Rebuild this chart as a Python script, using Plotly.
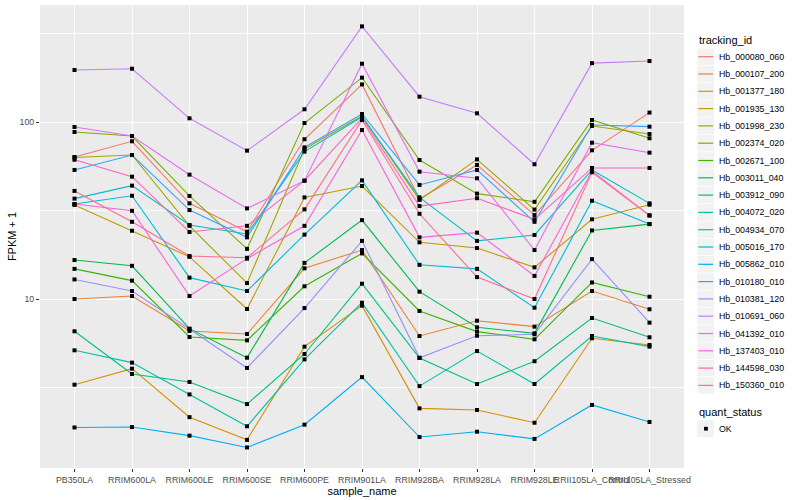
import plotly.graph_objects as go

samples = ["PB350LA", "RRIM600LA", "RRIM600LE", "RRIM600SE", "RRIM600PE", "RRIM901LA",
           "RRIM928BA", "RRIM928LA", "RRIM928LE", "RRII105LA_Control", "RRII105LA_Stressed"]

tracking_ids = ["Hb_000080_060", "Hb_000107_200", "Hb_001377_180", "Hb_001935_130", "Hb_001998_230",
                "Hb_002374_020", "Hb_002671_100", "Hb_003011_040", "Hb_003912_090", "Hb_004072_020",
                "Hb_004934_070", "Hb_005016_170", "Hb_005862_010", "Hb_010180_010", "Hb_010381_120",
                "Hb_010691_060", "Hb_041392_010", "Hb_137403_010", "Hb_144598_030", "Hb_150360_010"]

colors = ["#F8766D", "#EA8331", "#D89000", "#C09B00", "#A3A500", "#7CAE00", "#39B600", "#00BB4E",
          "#00BF7D", "#00C1A3", "#00BFC4", "#00BAE0", "#00B0F6", "#35A2FF", "#9590FF", "#C77CFF",
          "#E76BF3", "#FA62DB", "#FF62BC", "#FF6C91"]

# FPKM + 1 per sample
Hb_000080_060 = [63.4, 77.8, 34.7, 24.0, 79.9, 163, 36.7, 57.2, 29.8, 69.2, 113]
Hb_000107_200 = [10.0, 10.4, 6.6, 6.34, 14.9, 18.9, 6.18, 7.54, 6.98, 11.1, 8.75]
Hb_001377_180 = [3.28, 4.04, 2.15, 1.60, 5.38, 9.17, 2.41, 2.36, 2.00, 6.00, 5.50]
Hb_001935_130 = [34.0, 24.3, 17.3, 8.78, 37.5, 43.5, 20.9, 19.4, 15.1, 28.2, 34.1]
Hb_001998_230 = [63.0, 65.1, 25.9, 12.3, 70.4, 108, 36.3, 61.5, 32.0, 94.9, 85.5]
Hb_002374_020 = [87.8, 83.3, 38.2, 19.2, 98.7, 178, 61.0, 39.4, 35.4, 102.6, 80.9]
Hb_002671_100 = [14.8, 12.7, 6.10, 5.84, 11.8, 18.1, 8.56, 6.54, 5.92, 12.4, 10.3]
Hb_003011_040 = [16.6, 15.4, 6.8, 4.66, 16.0, 27.9, 11.0, 6.92, 6.40, 24.4, 26.5]
Hb_003912_090 = [6.57, 3.77, 3.40, 2.55, 4.89, 12.2, 4.64, 3.31, 4.45, 7.81, 6.08]
Hb_004072_020 = [5.13, 4.37, 2.89, 1.91, 4.56, 9.53, 3.22, 5.08, 3.31, 6.18, 5.38]
Hb_004934_070 = [36.9, 43.7, 26.2, 23.3, 68.0, 106.7, 37.5, 21.3, 23.0, 53.6, 34.7]
Hb_005016_170 = [34.4, 38.3, 13.2, 11.1, 23.1, 46.8, 15.6, 14.8, 8.93, 35.9, 26.5]
Hb_005862_010 = [1.88, 1.89, 1.69, 1.45, 1.95, 3.62, 1.66, 1.78, 1.62, 2.52, 2.02]
Hb_010180_010 = [53.6, 65.1, 31.8, 22.3, 71.9, 111, 44.1, 53.6, 27.3, 96.2, 94.1]
Hb_010381_120 = [12.9, 11.1, 6.77, 4.08, 8.89, 21.3, 4.66, 6.20, 6.32, 16.8, 7.35]
Hb_010691_060 = [196.7, 200, 104.9, 68.9, 118, 347, 139, 112, 57.7, 215, 221]
Hb_041392_010 = [93.7, 83.3, 50.4, 32.5, 46.6, 213.5, 52.4, 48.1, 18.9, 76.4, 67.1]
Hb_137403_010 = [34.4, 31.5, 10.4, 16.9, 25.9, 90.1, 22.3, 23.7, 13.5, 52.8, 29.7]
Hb_144598_030 = [61.2, 49.1, 23.9, 25.9, 46.6, 105.3, 33.5, 37.1, 28.2, 55.0, 55.0]
Hb_150360_010 = [40.8, 27.3, 17.5, 17.1, 32.1, 102.6, 30.3, 13.3, 10.0, 52.0, 29.6]

series = [Hb_000080_060, Hb_000107_200, Hb_001377_180, Hb_001935_130, Hb_001998_230,
          Hb_002374_020, Hb_002671_100, Hb_003011_040, Hb_003912_090, Hb_004072_020,
          Hb_004934_070, Hb_005016_170, Hb_005862_010, Hb_010180_010, Hb_010381_120,
          Hb_010691_060, Hb_041392_010, Hb_137403_010, Hb_144598_030, Hb_150360_010]

quant_status = "OK"

FONT = "Liberation Sans, Arial, sans-serif"
W, H = 800, 500
ML, MR, MT, MB = 40, 116, 5, 32
PW, PH = W - ML - MR, H - MT - MB


def px(xp):
    return (xp - ML) / PW


def py(yp):
    return (H - MB - yp) / PH


fig = go.Figure()
for name, col, vals in zip(tracking_ids, colors, series):
    fig.add_trace(go.Scatter(x=samples, y=vals, mode="lines", name=name,
                             line=dict(color=col, width=1.1), showlegend=False,
                             hoverinfo="x+y+name"))

all_x = [s for vals in series for s in samples]
all_y = [v for vals in series for v in vals]
fig.add_trace(go.Scatter(x=all_x, y=all_y, mode="markers", name=quant_status,
                         marker=dict(symbol="square", size=4, color="black"),
                         showlegend=False))

# manual ggplot-style legend
shapes = []
annotations = []
KEY_X0, KEY_W, TXT_X = 697.3, 17.3, 716.5
ROW0, ROWH = 56.7, 17.3
annotations.append(dict(x=px(696.5), y=py(40.5), xref="paper", yref="paper", text="tracking_id",
                        showarrow=False, xanchor="left", yanchor="middle",
                        font=dict(size=11, color="black", family=FONT)))
for i, (name, col) in enumerate(zip(tracking_ids, colors)):
    yc = ROW0 + ROWH * i
    shapes.append(dict(type="rect", xref="paper", yref="paper",
                       x0=px(KEY_X0), x1=px(KEY_X0 + KEY_W - 0.6),
                       y0=py(yc - ROWH / 2 + 0.4), y1=py(yc + ROWH / 2 - 0.4),
                       fillcolor="#F2F2F2", line=dict(width=0)))
    shapes.append(dict(type="line", xref="paper", yref="paper",
                       x0=px(KEY_X0 + 1), x1=px(KEY_X0 + KEY_W - 1.5), y0=py(yc), y1=py(yc),
                       line=dict(color=col, width=1.2)))
    annotations.append(dict(x=px(TXT_X), y=py(yc), xref="paper", yref="paper", text=name,
                            showarrow=False, xanchor="left", yanchor="middle",
                            font=dict(size=8.8, color="black", family=FONT)))

annotations.append(dict(x=px(696.5), y=py(412), xref="paper", yref="paper", text="quant_status",
                        showarrow=False, xanchor="left", yanchor="middle",
                        font=dict(size=11, color="black", family=FONT)))
yc = 428.7
shapes.append(dict(type="rect", xref="paper", yref="paper",
                   x0=px(KEY_X0), x1=px(KEY_X0 + KEY_W - 0.6),
                   y0=py(yc - ROWH / 2 + 0.4), y1=py(yc + ROWH / 2 - 0.4),
                   fillcolor="#F2F2F2", line=dict(width=0)))
shapes.append(dict(type="rect", xref="paper", yref="paper",
                   x0=px(KEY_X0 + KEY_W / 2 - 1.9), x1=px(KEY_X0 + KEY_W / 2 + 1.9),
                   y0=py(yc - 1.9), y1=py(yc + 1.9),
                   fillcolor="black", line=dict(width=0)))
annotations.append(dict(x=px(TXT_X), y=py(yc), xref="paper", yref="paper", text=quant_status,
                        showarrow=False, xanchor="left", yanchor="middle",
                        font=dict(size=8.8, color="black", family=FONT)))

fig.update_layout(
    width=W, height=H,
    margin=dict(l=ML, r=MR, t=MT, b=MB, autoexpand=False),
    paper_bgcolor="white", plot_bgcolor="#EBEBEB",
    font=dict(family=FONT, color="black"),
    showlegend=False,
    shapes=shapes, annotations=annotations,
)

fig.update_xaxes(type="category", categoryorder="array", categoryarray=samples,
                 range=[-0.6, len(samples) - 0.4], showgrid=True, gridcolor="white",
                 gridwidth=1.1, zeroline=False, showline=False, ticks="outside",
                 ticklen=3, tickcolor="#333333", tickangle=0,
                 tickfont=dict(size=8.8, color="#4D4D4D"),
                 title=dict(text="sample_name", font=dict(size=11), standoff=0))

fig.update_yaxes(type="log", range=[0.0452, 2.661], tickvals=[10, 100], ticktext=["10", "100"],
                 showgrid=True, gridcolor="white", gridwidth=1.1, zeroline=False, showline=False,
                 ticks="outside", ticklen=3, tickcolor="#333333",
                 tickfont=dict(size=8.8, color="#4D4D4D"),
                 minor=dict(tickvals=[3.1623, 31.623, 316.23], showgrid=True, gridcolor="white",
                            gridwidth=0.55, ticks=""),
                 title=dict(text="FPKM + 1", font=dict(size=11), standoff=0))

fig.write_html("out.html", config={"displayModeBar": False},
               post_script="document.body.style.margin='0px';")
